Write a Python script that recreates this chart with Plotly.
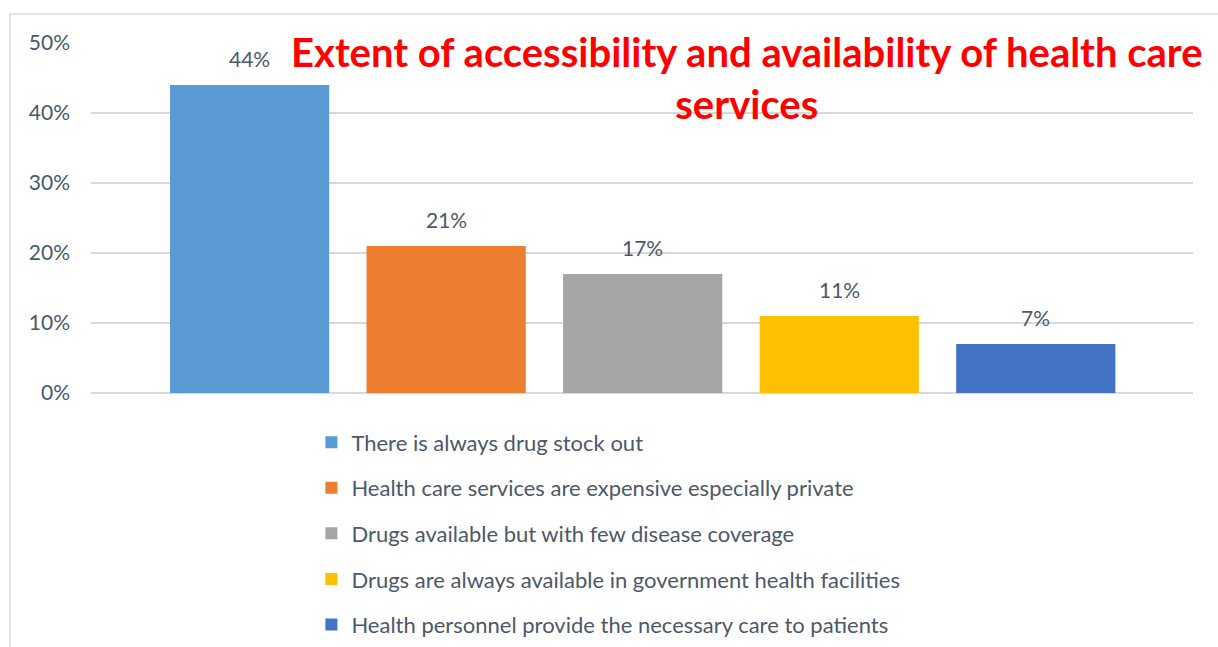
import plotly.graph_objects as go

# Survey responses: share of respondents per statement (%)
statements = [
    "There is always drug stock out",
    "Health care services are expensive especially private",
    "Drugs available but with few disease coverage",
    "Drugs are always available in government health facilities",
    "Health personnel provide the necessary care to patients",
]
shares = [44, 21, 17, 11, 7]
colors = ["#5B9BD5", "#ED7D31", "#A5A5A5", "#FFC000", "#4472C4"]
y_ticks = [0, 10, 20, 30, 40, 50]
y_ticklabels = ["0%", "10%", "20%", "30%", "40%", "50%"]

TEXT = "#4D5868"
GRID = "#D9D9D9"
FONT = "Lato"

fig = go.Figure()
for i, (name, v, c) in enumerate(zip(statements, shares, colors)):
    fig.add_trace(go.Bar(
        x=[i], y=[v], name=name, marker=dict(color=c, line=dict(width=0)),
        width=0.81, legendgroup=f"g{i}", hoverinfo="name+y",
    ))
    fig.add_annotation(
        x=i, y=v, text=f"{v}%", showarrow=False, yanchor="bottom", yshift=12,
        font=dict(family=FONT, size=21, color=TEXT),
    )

fig.add_annotation(
    x=(747 - 91) / 1102, xref="paper", y=1.05, yref="paper",
    xanchor="center", yanchor="top",
    text="Extent of accessibility and availability of health care<br>services",
    showarrow=False, font=dict(family=FONT, size=40, color="#FF0000", weight="bold"),
)

# outer chart frame
fig.add_shape(type="rect", xref="paper", yref="paper",
              x0=-0.0735, x1=1.2, y0=-1.0, y1=1.083,
              line=dict(color=GRID, width=1.5), layer="below")

fig.update_layout(
    width=1218, height=647,
    margin=dict(l=91, r=25, t=43, b=254, autoexpand=False),
    paper_bgcolor="white", plot_bgcolor="white",
    barmode="overlay",
    showlegend=True,
    legend=dict(
        x=0.2, xanchor="left", y=-0.081, yanchor="top",
        orientation="v", tracegroupgap=14,
        font=dict(family=FONT, size=22, color=TEXT),
        bgcolor="rgba(0,0,0,0)",
    ),
    xaxis=dict(range=[-0.807, 4.80], showticklabels=False, showgrid=False,
               zeroline=False, showline=False, fixedrange=True),
    yaxis=dict(range=[0, 50], tickvals=y_ticks, ticktext=y_ticklabels,
               showgrid=True, gridcolor=GRID, gridwidth=1.5,
               zeroline=True, zerolinecolor=GRID, zerolinewidth=1.5,
               showline=False, ticks="", ticklabelstandoff=20,
               tickfont=dict(family=FONT, size=21, color=TEXT)),
)

fig.write_html("out.html")
